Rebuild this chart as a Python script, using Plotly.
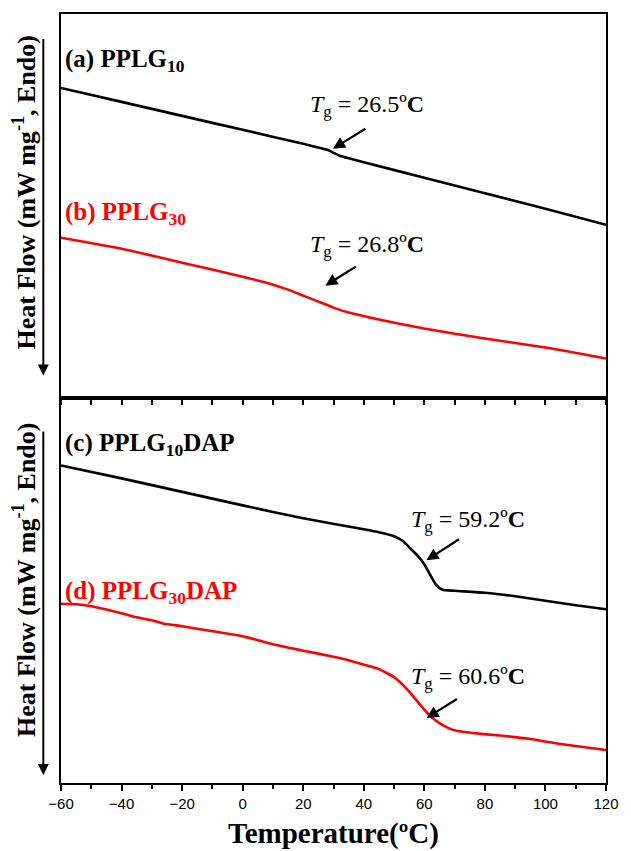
import plotly.graph_objects as go

# ---------------- data (heat flow in arbitrary display units, endo down) ----
temp_a = [-60, -40, -20, 0, 20, 26, 28, 30, 32, 40, 60, 80, 100, 120]
hf_a = [87, 101, 115, 129, 143, 147.5, 149, 152, 155, 161.4, 177, 192.5, 208, 224]

temp_b = [-60, -40, -20, 0, 10, 15, 20, 25, 30, 35, 45, 60, 80, 100, 120]
hf_b = [237, 248, 262, 276, 284, 289, 295, 301, 307, 312, 319, 328, 338, 347, 358]

temp_c = [-60, -40, -20, 0, 20, 40, 45, 50, 53, 56, 58, 60, 62, 64, 66, 70, 80, 90, 100, 110, 120]
hf_c = [465, 478, 491.5, 505, 518, 529, 532, 536, 541, 550, 556, 564, 575, 585, 589.5, 590.5, 592.5, 596, 600.5, 605, 609]

temp_d = [-60, -55, -50, -40, -36, -30, -26, -20, -13, 0, 10, 20, 30, 35, 40, 45, 50, 53, 56, 59, 62, 65, 68, 71, 76, 85, 95, 105, 120]
hf_d = [603.5, 604, 606, 613, 616.5, 620, 623.5, 626, 629.5, 636, 644, 650.5, 656.5, 660, 664.5, 669, 677, 685, 695, 706, 716, 723, 728, 731, 733, 735.5, 739, 744, 750]

tg_values = ["26.5", "26.8", "59.2", "60.6"]
panel_labels = ["(a) PPLG<sub>10</sub>", "(b) PPLG<sub>30</sub>",
                "(c) PPLG<sub>10</sub>DAP", "(d) PPLG<sub>30</sub>DAP"]
x_ticks = [-60, -40, -20, 0, 20, 40, 60, 80, 100, 120]

BLACK = "#000000"
RED = "#FF0000"
SERIF = "Liberation Serif, Times New Roman, serif"
SANS = "Liberation Sans, Arial, sans-serif"

fig = go.Figure()
fig.add_trace(go.Scatter(x=temp_a, y=hf_a, mode="lines", xaxis="x2", yaxis="y2",
                         line=dict(color=BLACK, width=2.6, shape="spline", smoothing=0.5)))
fig.add_trace(go.Scatter(x=temp_b, y=hf_b, mode="lines", xaxis="x2", yaxis="y2",
                         line=dict(color=RED, width=2.6, shape="spline", smoothing=0.5)))
fig.add_trace(go.Scatter(x=temp_c, y=hf_c, mode="lines", xaxis="x", yaxis="y",
                         line=dict(color=BLACK, width=2.6, shape="spline", smoothing=0.5)))
fig.add_trace(go.Scatter(x=temp_d, y=hf_d, mode="lines", xaxis="x", yaxis="y",
                         line=dict(color=RED, width=2.6, shape="spline", smoothing=0.5)))

split = (783 - 397) / 770.0

axis_common = dict(showline=True, linewidth=2, linecolor=BLACK, mirror=True,
                   showgrid=False, zeroline=False)

fig.update_layout(
    width=631, height=851,
    margin=dict(l=61, r=15, t=13, b=68),
    paper_bgcolor="white", plot_bgcolor="white",
    showlegend=False,
    xaxis=dict(**axis_common, domain=[0, 1], anchor="y", range=[-60, 120],
               tickmode="array", tickvals=x_ticks, ticks="outside", ticklen=6,
               tickwidth=2, tickcolor=BLACK,
               minor=dict(dtick=10, ticks="outside", ticklen=4, tickwidth=2, tickcolor=BLACK),
               tickfont=dict(family=SANS, size=15, color=BLACK)),
    xaxis2=dict(**axis_common, domain=[0, 1], anchor="y2", range=[-60, 120], matches="x",
                dtick=10, tick0=-60, ticks="outside", ticklen=5, tickwidth=2, tickcolor=BLACK,
                showticklabels=False),
    yaxis=dict(**axis_common, domain=[0, split], anchor="x", range=[783, 397],
               showticklabels=False, ticks=""),
    yaxis2=dict(**axis_common, domain=[split, 1], anchor="x2", range=[397, 13],
                showticklabels=False, ticks=""),
)

annotations = []
# panel labels
label_pos = [("y2", 60, BLACK), ("y2", 213, RED), ("y", 444, BLACK), ("y", 592, RED)]
for text, (yref, yv, col) in zip(panel_labels, label_pos):
    annotations.append(dict(text="<b>" + text + "</b>", xref="x", yref=yref, x=-59.2, y=yv,
                            xanchor="left", yanchor="middle", showarrow=False,
                            font=dict(family=SERIF, size=25, color=col)))

# Tg labels and arrows
tg_text_pos = [("y2", 40.9, 105), ("y2", 40.9, 245), ("y", 74.3, 521), ("y", 74.3, 678)]
tg_arrow = [("y2", 29.8, 148, 34, -21), ("y2", 27.3, 285, 32, -20),
            ("y", 60.7, 560, 34, -22), ("y", 60.7, 718, 32, -20)]
for v, (yref, xv, yv), (ayref, hx, hy, dx, dy) in zip(tg_values, tg_text_pos, tg_arrow):
    annotations.append(dict(text="<i>T</i><sub>g</sub> = " + v + "º<b>C</b>",
                            xref="x", yref=yref, x=xv, y=yv, xanchor="center",
                            yanchor="middle", showarrow=False,
                            font=dict(family=SERIF, size=24, color=BLACK)))
    annotations.append(dict(text="", xref="x", yref=ayref, x=hx, y=hy,
                            ax=dx, ay=dy, showarrow=True, arrowhead=2, arrowsize=1.1,
                            arrowwidth=2.2, arrowcolor=BLACK))

# y-axis titles with down arrows
ytitle = "<b>Heat Flow (mW mg<sup>-1</sup>, Endo)</b>"
for yc in [(783 - 192) / 770.0, (783 - 580) / 770.0]:
    annotations.append(dict(text=ytitle, xref="paper", yref="paper", x=(24 - 61) / 555.0, y=yc,
                            xanchor="center", yanchor="middle", textangle=-90, showarrow=False,
                            font=dict(family=SERIF, size=26, color=BLACK)))
for head_px, tail_px in [(375, 37), (775, 430)]:
    annotations.append(dict(text="", xref="paper", yref="paper",
                            x=(43 - 61) / 555.0, y=(783 - head_px) / 770.0,
                            ax=0, ay=-(head_px - tail_px), showarrow=True, arrowhead=2,
                            arrowsize=1.1, arrowwidth=2, arrowcolor=BLACK))

# x-axis title
annotations.append(dict(text="<b>Temperature(ºC)</b>", xref="paper", yref="paper",
                        x=0.5, y=(783 - 834) / 770.0, xanchor="center", yanchor="middle",
                        showarrow=False, borderpad=0,
                        font=dict(family=SERIF, size=29, color=BLACK)))

fig.update_layout(annotations=annotations)
# remove the default 8px page margin so the 631x851 figure fills the window exactly
fig.write_html("out.html",
               config={"displayModeBar": False, "responsive": False},
               post_script="document.body.style.margin='0';document.body.style.overflow='hidden';")
